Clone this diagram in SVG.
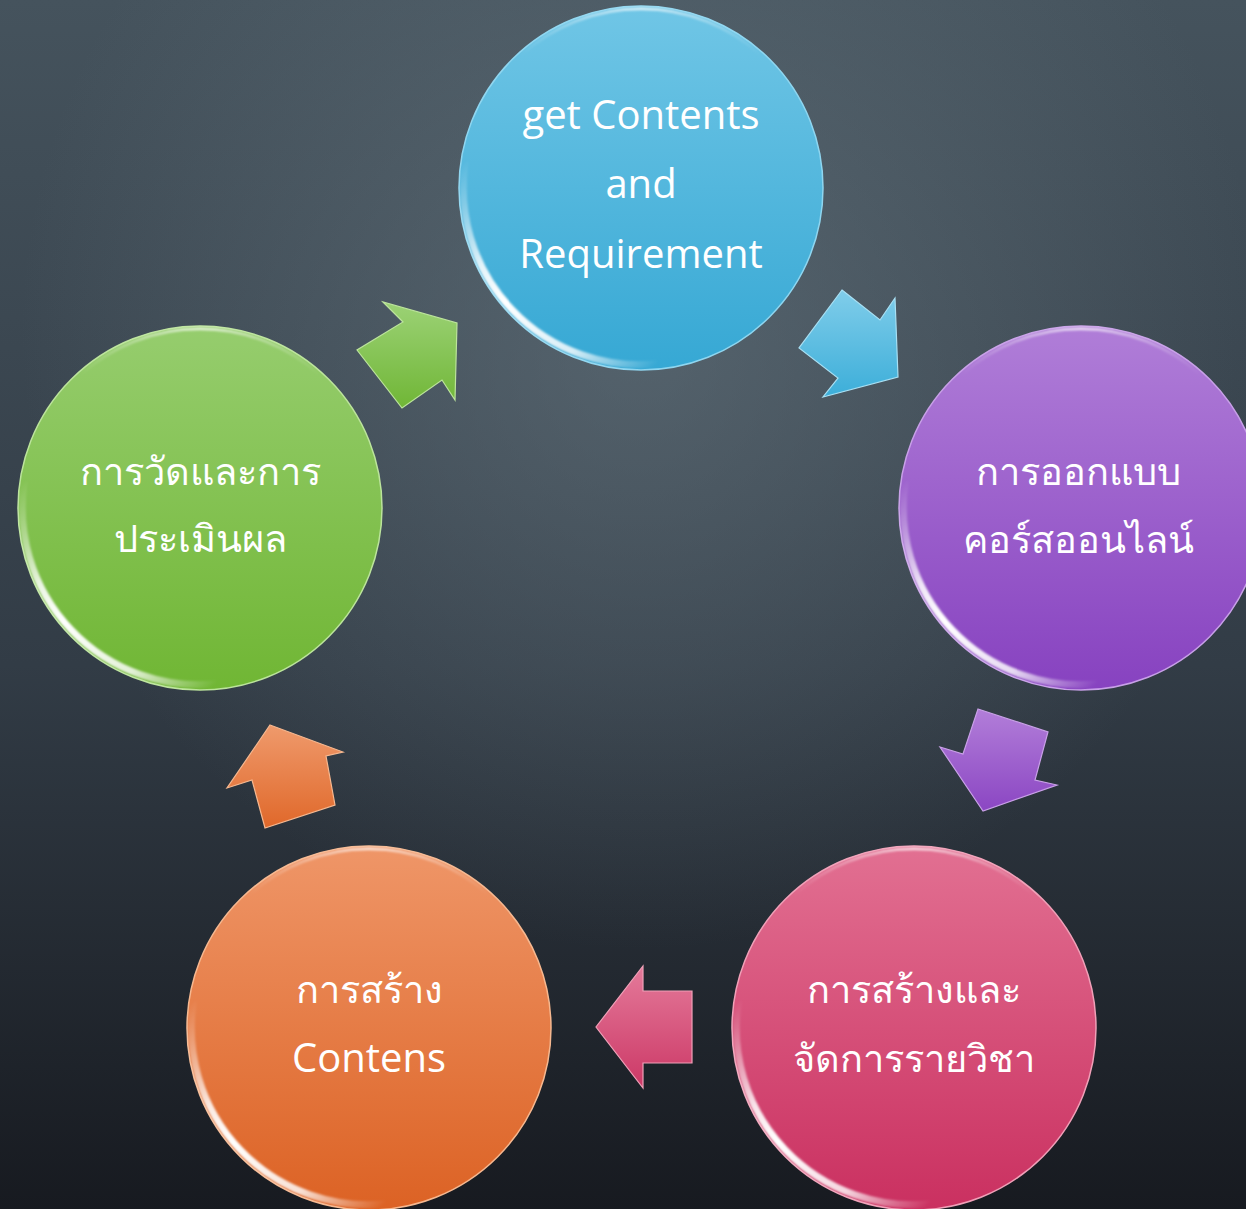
<svg xmlns="http://www.w3.org/2000/svg" xmlns:xlink="http://www.w3.org/1999/xlink" width="1246" height="1209" viewBox="0 0 1246 1209">
<style>
.t{font-family:"Open Sans","Noto Sans","DejaVu Sans",sans-serif;font-size:38px;fill:#ffffff;text-anchor:middle}
.l{font-size:40px}
.gl{fill:none;stroke:url(#glossG);stroke-width:7;stroke-linecap:round;filter:url(#soft)}
.top{fill:none;stroke:url(#topG);stroke-width:3;filter:url(#soft)}
.arr{stroke-width:1.2;stroke-linejoin:miter}
</style>
<defs>
<filter id="soft" x="-10%" y="-10%" width="120%" height="120%"><feGaussianBlur stdDeviation="0.9"/></filter>
<linearGradient id="bgL" x1="0" y1="0" x2="0" y2="1">
<stop offset="0" stop-color="#45535d"/>
<stop offset="0.55" stop-color="#323c46"/>
<stop offset="1" stop-color="#171a20"/>
</linearGradient>
<radialGradient id="bgR" gradientUnits="userSpaceOnUse" cx="640" cy="330" r="620">
<stop offset="0" stop-color="#6a7a84" stop-opacity="0.55"/>
<stop offset="1" stop-color="#6a7a84" stop-opacity="0"/>
</radialGradient>
<linearGradient id="glossG" x1="0" y1="0" x2="1" y2="1">
<stop offset="0" stop-color="#ffffff" stop-opacity="0"/>
<stop offset="0.3" stop-color="#ffffff" stop-opacity="0.85"/>
<stop offset="0.45" stop-color="#ffffff" stop-opacity="1"/>
<stop offset="0.75" stop-color="#ffffff" stop-opacity="0.8"/>
<stop offset="1" stop-color="#ffffff" stop-opacity="0"/>
</linearGradient>
<linearGradient id="topG" x1="0" y1="0" x2="1" y2="0">
<stop offset="0" stop-color="#ffffff" stop-opacity="0"/>
<stop offset="0.5" stop-color="#ffffff" stop-opacity="0.7"/>
<stop offset="1" stop-color="#ffffff" stop-opacity="0"/>
</linearGradient>
<linearGradient id="cBlue" x1="0" y1="0" x2="0" y2="1"><stop offset="0" stop-color="#70c6e6"/><stop offset="1" stop-color="#36a8d4"/></linearGradient>
<linearGradient id="cPurple" x1="0" y1="0" x2="0" y2="1"><stop offset="0" stop-color="#b07ed8"/><stop offset="1" stop-color="#8742c0"/></linearGradient>
<linearGradient id="cPink" x1="0" y1="0" x2="0" y2="1"><stop offset="0" stop-color="#e27092"/><stop offset="1" stop-color="#ca3060"/></linearGradient>
<linearGradient id="cOrange" x1="0" y1="0" x2="0" y2="1"><stop offset="0" stop-color="#ef9668"/><stop offset="1" stop-color="#dc6224"/></linearGradient>
<linearGradient id="cGreen" x1="0" y1="0" x2="0" y2="1"><stop offset="0" stop-color="#96cd6e"/><stop offset="1" stop-color="#70b634"/></linearGradient>
<linearGradient id="aBlue" x1="0" y1="0" x2="0" y2="1"><stop offset="0" stop-color="#80cdea"/><stop offset="1" stop-color="#3caed9"/></linearGradient>
<linearGradient id="aPurple" x1="0" y1="0" x2="0" y2="1"><stop offset="0" stop-color="#b27ed9"/><stop offset="1" stop-color="#8b46c3"/></linearGradient>
<linearGradient id="aPink" x1="0" y1="0" x2="0" y2="1"><stop offset="0" stop-color="#e47a9a"/><stop offset="1" stop-color="#cc3866"/></linearGradient>
<linearGradient id="aOrange" x1="0" y1="0" x2="0" y2="1"><stop offset="0" stop-color="#ef9a6c"/><stop offset="1" stop-color="#e0682a"/></linearGradient>
<linearGradient id="aGreen" x1="0" y1="0" x2="0" y2="1"><stop offset="0" stop-color="#9cd276"/><stop offset="1" stop-color="#70b636"/></linearGradient>
<path id="gloss" d="M -176 -25 A 177 177 0 0 0 15 176"/>
<path id="topArc" d="M -120 -133 A 179 179 0 0 1 120 -133"/>
</defs>
<rect x="0" y="0" width="1246" height="1209" fill="url(#bgL)"/>
<rect x="0" y="0" width="1246" height="1209" fill="url(#bgR)"/>

<g id="connectors">
<polygon class="arr" fill="url(#aBlue)" stroke="#a8e0f4" points="842,290 880,320 895,298 898,377 823,397 838,378 799,348"/>
<polygon class="arr" fill="url(#aPurple)" stroke="#c9a0e8" points="978,709 1048,732 1035,780 1057,785 983,811 940,747 963,754"/>
<polygon class="arr" fill="url(#aPink)" stroke="#f0a0b8" points="643,966 643,991 692,991 692,1063 643,1063 643,1088 596,1027"/>
<polygon class="arr" fill="url(#aOrange)" stroke="#f6b890" points="270,725 343,752 326,756 335,805 265,828 252,780 227,788"/>
<polygon class="arr" fill="url(#aGreen)" stroke="#bce49c" points="383,302 403,322 357,350 402,408 442,380 455,400 457,323"/>
</g>

<g id="node-requirement" transform="translate(641,188)">
<circle r="182" fill="url(#cBlue)" stroke="#8fd6f0" stroke-width="1.5"/>
<use href="#gloss" class="gl"/>
<use href="#topArc" class="top"/>
<text class="t l" x="0" y="-59">get Contents</text>
<text class="t l" x="0" y="10">and</text>
<text class="t l" x="0" y="80">Requirement</text>
</g>

<g id="node-design" transform="translate(1081,508)">
<circle r="182" fill="url(#cPurple)" stroke="#c8a0e8" stroke-width="1.5"/>
<use href="#gloss" class="gl"/>
<use href="#topArc" class="top"/>
<text class="t" x="-3" y="-23">การออกแบบ</text>
<text class="t" x="-3" y="45">คอร์สออนไลน์</text>
</g>

<g id="node-manage" transform="translate(914,1028)">
<circle r="182" fill="url(#cPink)" stroke="#f0a0b8" stroke-width="1.5"/>
<use href="#gloss" class="gl"/>
<use href="#topArc" class="top"/>
<text class="t" x="0" y="-25">การสร้างและ</text>
<text class="t" x="0" y="44">จัดการรายวิชา</text>
</g>

<g id="node-create" transform="translate(369,1028)">
<circle r="182" fill="url(#cOrange)" stroke="#f6b890" stroke-width="1.5"/>
<use href="#gloss" class="gl"/>
<use href="#topArc" class="top"/>
<text class="t" x="0" y="-25">การสร้าง</text>
<text class="t l" x="0" y="44">Contens</text>
</g>

<g id="node-evaluate" transform="translate(200,508)">
<circle r="182" fill="url(#cGreen)" stroke="#bce49c" stroke-width="1.5"/>
<use href="#gloss" class="gl"/>
<use href="#topArc" class="top"/>
<text class="t" x="0" y="-23">การวัดและการ</text>
<text class="t" x="0" y="44">ประเมินผล</text>
</g>
</svg>
